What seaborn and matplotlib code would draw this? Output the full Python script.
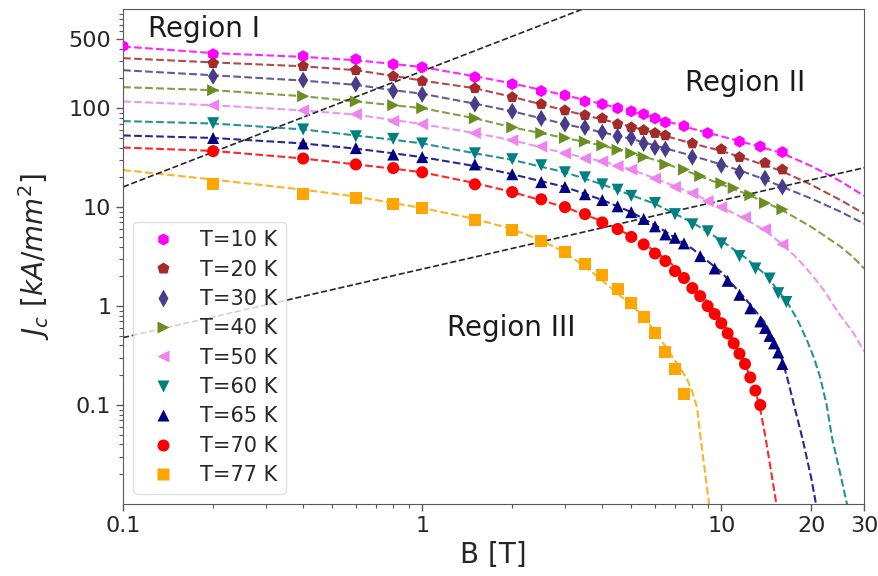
import matplotlib
matplotlib.use("Agg")
import pandas as pd
import matplotlib.pyplot as plt
import seaborn as sns
from matplotlib.ticker import NullFormatter

# Measured points (B in T, Jc in kA/mm^2)
B_10 = [0.1, 0.2, 0.4, 0.6, 0.8, 1, 1.5, 2, 2.5, 3, 3.5, 4, 4.5, 5, 5.5, 6, 6.5, 7.5, 9, 11.5, 13.5, 16]
J_10 = [423, 351, 335, 312, 278, 259, 206, 175, 149, 135, 117, 110, 100, 93, 87, 79, 72, 66, 56, 46, 41, 36]

B_20 = [0.2, 0.4, 0.6, 0.8, 1, 1.5, 2, 2.5, 3, 3.5, 4, 4.5, 5, 5.5, 6, 6.5, 8, 10, 11.5, 14, 16]
J_20 = [285, 266, 242, 210, 188, 159, 129, 110, 95, 85, 79, 69, 64, 60, 56, 53, 44, 38.5, 32, 28, 24]

B_30 = [0.2, 0.4, 0.6, 0.8, 1, 1.5, 2, 2.5, 3, 3.5, 4, 4.5, 5, 5.5, 6, 6.5, 8, 10, 11.5, 14, 16]
J_30 = [210, 192, 175, 149, 138, 110, 93, 79, 69, 64, 57, 52, 50, 44, 40, 38.5, 32, 26.5, 22.5, 19.6, 16]

B_40 = [0.2, 0.4, 0.6, 0.8, 1, 1.5, 2, 2.5, 3, 3.5, 4, 4.5, 5, 5.5, 6.5, 7.5, 8.5, 10, 11, 12.5, 14, 16]
J_40 = [152, 132, 117, 107, 100, 79, 64, 56, 50, 46, 42, 38, 35, 32, 27, 24, 20.6, 17.5, 15.6, 13.2, 11, 9.5]

B_50 = [0.2, 0.4, 0.6, 0.8, 1, 1.5, 2, 2.5, 3, 3.5, 4, 4.5, 5, 6, 7, 8, 9, 10, 12, 14, 16]
J_50 = [107, 95, 87, 74, 69, 56, 47.5, 41, 35, 31, 29, 26, 24, 19.5, 16, 13.8, 11.5, 10, 7.9, 6.0, 4.2]

B_60 = [0.2, 0.4, 0.6, 0.8, 1, 1.5, 2, 2.5, 3, 3.5, 4, 4.5, 5, 6, 7, 8, 9, 10, 11.5, 13, 14.5, 15.5, 16.5]
J_60 = [70.5, 61, 52, 49, 44, 35, 30.5, 26.5, 22.5, 20, 17, 15, 13, 11, 8.5, 6.7, 5.7, 4.3, 3.2, 2.4, 1.9, 1.35, 1.1]

B_65 = [0.2, 0.4, 0.6, 0.8, 1, 1.5, 2, 2.5, 3, 3.5, 4, 4.5, 5, 5.5, 6, 6.5, 7, 7.5, 8.5, 9.5,
        10.5, 11.5, 12.5, 13.5, 14, 14.5, 15, 15.5, 16]
J_65 = [50, 44, 39.5, 34, 32, 27, 21.5, 17.9, 16, 13.5, 11.8, 10.2, 8.9, 7.6, 6.4, 5.3, 4.9, 4.3, 3.2, 2.4,
        1.8, 1.3, 0.95, 0.70, 0.60, 0.50, 0.42, 0.34, 0.26]

B_70 = [0.2, 0.4, 0.6, 0.8, 1, 1.5, 2, 2.5, 3, 3.5, 4, 4.5, 5, 5.5, 6, 6.5, 7, 7.5, 8, 8.5,
        9, 9.5, 10, 10.5, 11, 11.5, 12, 12.5, 13, 13.5]
J_70 = [36.8, 31, 27, 24.8, 22.5, 17, 14.2, 12, 10, 8.5, 7.0, 6.0, 5.0, 4.2, 3.4, 2.85, 2.26, 1.92, 1.52, 1.26,
        1.0, 0.83, 0.67, 0.53, 0.42, 0.33, 0.26, 0.19, 0.14, 0.10]

B_77 = [0.2, 0.4, 0.6, 0.8, 1, 1.5, 2, 2.5, 3, 3.5, 4, 4.5, 5, 5.5, 6, 6.5, 7, 7.5]
J_77 = [17, 13.5, 12.3, 10.7, 9.8, 7.4, 5.9, 4.5, 3.5, 2.65, 2.06, 1.49, 1.07, 0.77, 0.53, 0.34, 0.23, 0.13]

# Fit curves
fitB_10 = [0.1, 0.2, 0.4, 0.6, 0.8, 1, 1.5, 2, 3, 4, 5, 6, 8, 10, 13, 16, 20, 25, 30]
fitJ_10 = [420, 360, 330, 305, 280, 260, 210, 178, 135, 110, 93, 80, 62, 52, 42, 35, 26, 18.3, 13]

fitB_20 = [0.1, 0.2, 0.4, 0.6, 0.8, 1, 1.5, 2, 3, 4, 5, 6, 8, 10, 12, 14, 16, 20, 25, 30]
fitJ_20 = [320, 290, 265, 242, 212, 190, 159, 130, 95, 77, 65, 56, 44, 37, 31, 26.5, 23, 16.8, 11.8, 8.6]

fitB_30 = [0.1, 0.2, 0.4, 0.6, 0.8, 1, 1.5, 2, 3, 4, 5, 6, 8, 10, 12, 14, 16, 20, 25, 30]
fitJ_30 = [242, 215, 190, 172, 152, 140, 111, 93, 69, 57, 49, 42, 33, 27, 22.5, 19, 16, 12.2, 9.0, 6.8]

fitB_40 = [0.1, 0.2, 0.4, 0.6, 0.8, 1, 1.5, 2, 3, 4, 5, 6, 8, 10, 12, 14, 16, 20, 25, 27.5, 30]
fitJ_40 = [163, 152, 132, 117, 107, 100, 79, 64, 50, 42, 35, 30, 22, 17, 13.8, 11.2, 9.3, 6.3, 4.0, 3.15, 2.4]

fitB_50 = [0.1, 0.2, 0.4, 0.6, 0.8, 1, 1.5, 2, 3, 4, 5, 6, 8, 10, 12, 14, 16, 18, 20, 22, 25, 27.5, 30]
fitJ_50 = [117, 107, 95, 86, 76, 69, 56, 47.5, 35, 29, 24, 19.5, 13.8, 10, 7.6, 5.8, 4.2, 3.0, 2.1, 1.45,
           0.80, 0.55, 0.35]

fitB_60 = [0.1, 0.2, 0.4, 0.6, 0.8, 1, 1.5, 2, 3, 4, 5, 6, 8, 10, 12, 14, 16.6, 18, 19.4, 20.4, 21.4,
           22.5, 23.5, 25, 26.5]
fitJ_60 = [74, 70, 61, 53, 48, 44, 35, 30, 22.5, 17, 13.2, 10.8, 7.0, 4.6, 3.1, 2.1, 1.1, 0.72, 0.44, 0.3, 0.19,
           0.1, 0.045, 0.02, 0.009]

fitB_65 = [0.1, 0.2, 0.4, 0.6, 0.8, 1, 1.5, 2, 3, 4, 5, 6, 8, 10, 12, 14, 15, 16, 16.6, 17.5, 18.7, 20, 21]
fitJ_65 = [53, 50, 44, 39, 35, 32, 26, 21.5, 16, 11.8, 8.9, 6.6, 3.8, 2.2, 1.2, 0.68, 0.45, 0.28, 0.19, 0.1,
           0.045, 0.018, 0.008]

fitB_70 = [0.1, 0.2, 0.4, 0.6, 0.8, 1, 1.5, 2, 3, 4, 5, 6, 7, 8, 9, 10, 11, 12, 13, 13.5, 14, 14.4, 15.2, 15.4]
fitJ_70 = [40, 37, 31, 27, 24.5, 22.5, 17.5, 14.2, 10, 7.2, 5.1, 3.6, 2.5, 1.7, 1.1, 0.72, 0.45, 0.26, 0.14,
           0.09, 0.05, 0.03, 0.011, 0.008]

fitB_77 = [0.1, 0.2, 0.4, 0.6, 0.8, 1, 1.5, 2, 2.5, 3, 3.7, 4.1, 4.7, 5.4, 6.1, 6.9, 7.3, 7.7, 8.0, 8.3, 8.5,
           8.8, 9.1, 9.2]
fitJ_77 = [23.7, 19, 15, 12.8, 11, 9.8, 7.6, 6, 4.6, 3.5, 2.2, 1.7, 1.2, 0.83, 0.52, 0.30, 0.235, 0.18, 0.135,
           0.094, 0.05, 0.022, 0.01, 0.008]

# Region boundaries
bound1_B = [0.1, 3.43]
bound1_J = [16, 1000]
bound2_B = [0.1, 30]
bound2_J = [0.48, 25]

labels = ["T=10 K", "T=20 K", "T=30 K", "T=40 K", "T=50 K", "T=60 K", "T=65 K", "T=70 K", "T=77 K"]
point_B = [B_10, B_20, B_30, B_40, B_50, B_60, B_65, B_70, B_77]
point_J = [J_10, J_20, J_30, J_40, J_50, J_60, J_65, J_70, J_77]
fit_B = [fitB_10, fitB_20, fitB_30, fitB_40, fitB_50, fitB_60, fitB_65, fitB_70, fitB_77]
fit_J = [fitJ_10, fitJ_20, fitJ_30, fitJ_40, fitJ_50, fitJ_60, fitJ_65, fitJ_70, fitJ_77]

colors = ["magenta", "brown", "darkslateblue", "olivedrab", "violet", "teal", "navy", "red", "orange"]
marker_list = ["h", "p", "d", ">", "<", "v", "^", "o", "s"]
palette = dict(zip(labels, colors))
markers = dict(zip(labels, marker_list))

pts = pd.concat([pd.DataFrame({"B": b, "J": j, "T": lab}) for lab, b, j in zip(labels, point_B, point_J)])
fits = pd.concat([pd.DataFrame({"B": b, "J": j, "T": lab}) for lab, b, j in zip(labels, fit_B, fit_J)])

sns.set_style("ticks")
plt.rcParams["font.family"] = ["DejaVu Sans"]
plt.rcParams["axes.edgecolor"] = "0.35"
plt.rcParams["xtick.color"] = "0.35"
plt.rcParams["ytick.color"] = "0.35"
plt.rcParams["xtick.labelcolor"] = "0.15"
plt.rcParams["ytick.labelcolor"] = "0.15"

fig = plt.figure(figsize=(8.79, 5.76), dpi=100)
ax = fig.add_axes([0.140, 0.125, 0.843, 0.859])
ax.set_xscale("log")
ax.set_yscale("log")

sns.lineplot(data=fits, x="B", y="J", hue="T", palette=palette, estimator=None, sort=False,
             legend=False, linestyle="--", linewidth=1.5, alpha=0.85, ax=ax)
sns.scatterplot(data=pts, x="B", y="J", hue="T", style="T", markers=markers, palette=palette,
                s=75, edgecolor="none", ax=ax, zorder=3)
sns.lineplot(x=bound1_B, y=bound1_J, color="0.15", linestyle="--", linewidth=1.2, ax=ax)
sns.lineplot(x=bound2_B, y=bound2_J, color="0.15", linestyle="--", linewidth=1.2, ax=ax)

ax.set_xlim(0.1, 30)
ax.set_ylim(0.01, 1000)
ax.set_xticks([0.1, 1, 10, 20, 30])
ax.set_xticklabels(["0.1", "1", "10", "20", "30"])
ax.set_yticks([0.1, 1, 10, 100, 500])
ax.set_yticklabels(["0.1", "1", "10", "100", "500"])
ax.xaxis.set_minor_formatter(NullFormatter())
ax.yaxis.set_minor_formatter(NullFormatter())
ax.tick_params(which="major", labelsize=16, length=5, width=1)
ax.tick_params(which="minor", length=3, width=0.8)

ax.set_xlabel("B [T]", fontsize=20, color="0.15")
ax.set_ylabel(r"$J_c\ [kA/mm^2]$", fontsize=20, color="0.15", labelpad=12)

ax.text(0.034, 0.943, "Region I", transform=ax.transAxes, fontsize=20, color="0.1", va="baseline")
ax.text(0.758, 0.834, "Region II", transform=ax.transAxes, fontsize=20, color="0.1", va="baseline")
ax.text(0.437, 0.339, "Region III", transform=ax.transAxes, fontsize=20, color="0.1", va="baseline")

old = ax.get_legend()
handles = old.legend_handles
texts = [t.get_text() for t in old.get_texts()]
old.remove()
ax.legend(handles, texts, loc="lower left", fontsize=15, labelspacing=0.45, frameon=True, edgecolor="0.85")

fig.savefig("out.png", dpi=100)
